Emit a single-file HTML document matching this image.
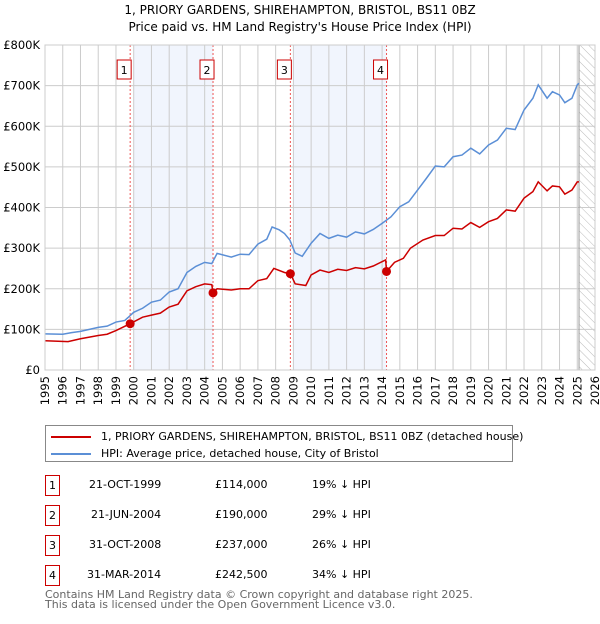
<!DOCTYPE html>
<html><head><meta charset="utf-8"><style>
body{margin:0;background:#fff;font-family:"DejaVu Sans","Liberation Sans",sans-serif;}
svg text{font-family:"DejaVu Sans","Liberation Sans",sans-serif;}
span,div{white-space:nowrap;}
</style></head><body>
<svg id="c" width="600" height="620" xmlns="http://www.w3.org/2000/svg">
<defs><pattern id="hatch" width="6" height="6" patternUnits="userSpaceOnUse" patternTransform="rotate(-45)"><line x1="0" y1="0" x2="0" y2="6" stroke="#bbb" stroke-width="1"/></pattern></defs>
<text x="300" y="14" text-anchor="middle" font-size="12">1, PRIORY GARDENS, SHIREHAMPTON, BRISTOL, BS11 0BZ</text>
<text x="300" y="31" text-anchor="middle" font-size="12">Price paid vs. HM Land Registry's House Price Index (HPI)</text>
<g id="plot"></g>
</svg>
<script>
const hpiYears=[1995,1996,1996.5,1997,1998,1998.5,1999,1999.5,2000,2000.5,2001,2001.5,2002,2002.5,2003,2003.5,2004,2004.4,2004.7,2005.5,2006,2006.5,2007,2007.5,2007.8,2008.2,2008.5,2008.8,2009.1,2009.5,2010,2010.5,2011,2011.5,2012,2012.5,2013,2013.5,2014,2014.5,2015,2015.5,2016,2016.5,2017,2017.5,2018,2018.5,2019,2019.5,2020,2020.5,2021,2021.5,2022,2022.5,2022.8,2023.3,2023.6,2024,2024.3,2024.7,2025,2025.1];
const hpiValues=[89,88,92,95,105,108,118,122,142,152,167,172,192,200,240,255,265,262,287,278,285,284,310,322,352,345,336,320,288,280,312,336,324,332,327,340,335,346,361,377,402,414,443,472,502,500,525,529,546,532,554,566,595,592,640,669,702,669,685,677,658,669,702,706];
const ppYears=[1995,1996.3,1997,1998,1998.5,1999,1999.8,2000.5,2001,2001.5,2002,2002.5,2003,2003.5,2004,2004.4,2004.47,2004.7,2005.5,2006,2006.5,2007,2007.5,2007.9,2008.5,2008.83,2009.1,2009.7,2010,2010.5,2011,2011.5,2012,2012.5,2013,2013.5,2014.2,2014.25,2014.7,2015.2,2015.6,2016.3,2017,2017.5,2018,2018.5,2019,2019.5,2020,2020.5,2021,2021.5,2022,2022.5,2022.8,2023.3,2023.6,2024,2024.3,2024.7,2025,2025.1];
const ppValues=[72,70,77,85,88,97,114,130,135,140,155,162,195,205,212,210,190,200,197,200,200,220,225,250,240,237,212,208,234,246,240,248,245,252,249,256,271,242.5,265,275,300,320,331,331,349,347,363,351,365,373,394,391,423,439,463,441,453,451,433,443,463,463];
const saleYears=[1999.8,2004.47,2008.83,2014.25];
const saleValues=[114,190,237,242.5];
const saleLabels=["1","2","3","4"];
const yTicks=[0,100,200,300,400,500,600,700,800];
const yTickLabels=["£0","£100K","£200K","£300K","£400K","£500K","£600K","£700K","£800K"];
const xTicks=[1995,1996,1997,1998,1999,2000,2001,2002,2003,2004,2005,2006,2007,2008,2009,2010,2011,2012,2013,2014,2015,2016,2017,2018,2019,2020,2021,2022,2023,2024,2025,2026];
const shadeRanges=[[2000,2004.47],[2009,2014.25]];
const X0=45,X1=595,Y0=370,Y1=45;
const sx=y=>X0+(y-1995)/(2026-1995)*(X1-X0);
const sy=v=>Y0-v/800*(Y0-Y1);
const NS="http://www.w3.org/2000/svg";
const g=document.getElementById('plot');
function mk(t,a){const e=document.createElementNS(NS,t);for(const k in a)e.setAttribute(k,a[k]);g.appendChild(e);return e;}
shadeRanges.forEach((r,i)=>{const e=mk('rect',{x:sx(r[0]),y:Y1,width:sx(r[1])-sx(r[0]),height:Y0-Y1,fill:'#eef3fd',opacity:0.8});

});
const h=mk('rect',{x:sx(2025.1),y:Y1,width:X1-sx(2025.1),height:Y0-Y1,fill:'url(#hatch)'});


xTicks.forEach(t=>{const l=mk('line',{x1:sx(t),x2:sx(t),y1:Y1,y2:Y0,stroke:'#ccc','stroke-width':1});


const tx=mk('text',{x:0,y:0,'font-size':11.5,'text-anchor':'end',transform:`translate(${sx(t)+4},${Y0+6}) rotate(-90)`});tx.textContent=t;

});
yTicks.forEach((t,i)=>{const l=mk('line',{x1:X0,x2:X1,y1:sy(t),y2:sy(t),stroke:'#ccc','stroke-width':1});


const tx=mk('text',{x:X0-5,y:sy(t)+4,'font-size':11.5,'text-anchor':'end'});tx.textContent=yTickLabels[i];

});
const vl=mk('line',{x1:sx(2025.1),x2:sx(2025.1),y1:Y1,y2:Y0,stroke:'#999','stroke-width':1});


saleYears.forEach((y,i)=>{const l=mk('line',{x1:sx(y),x2:sx(y),y1:Y1,y2:Y0,stroke:'#e55','stroke-width':1,'stroke-dasharray':'2,2'});


const b=mk('rect',{x:sx(y)-13,y:60,width:14,height:19,fill:'#fff',stroke:'#c00','stroke-width':1});


const t=mk('text',{x:sx(y)-6,y:74,'font-size':11,'text-anchor':'middle'});t.textContent=saleLabels[i];

});
const hp=mk('polyline',{points:hpiYears.map((y,i)=>sx(y)+','+sy(hpiValues[i])).join(' '),fill:'none',stroke:'#5b8fd6','stroke-width':1.5});


const pp=mk('polyline',{points:ppYears.map((y,i)=>sx(y)+','+sy(ppValues[i])).join(' '),fill:'none',stroke:'#cc0000','stroke-width':1.5});


saleYears.forEach((y,i)=>{const c=mk('circle',{cx:sx(y),cy:sy(saleValues[i]),r:4.5,fill:'#cc0000'});

});
const bd=mk('rect',{x:X0,y:Y1,width:X1-X0,height:Y0-Y1,fill:'none',stroke:'#ccc'});


</script>
<div style="position:absolute;left:45px;top:425px;width:466px;height:35px;border:1px solid #888;font-size:11px;">
<div style="position:absolute;left:5px;top:4px;"><span style="display:inline-block;width:40px;height:2px;background:#cc0000;vertical-align:middle;margin-right:10px"></span>1, PRIORY GARDENS, SHIREHAMPTON, BRISTOL, BS11 0BZ (detached house)</div>
<div style="position:absolute;left:5px;top:21px;"><span style="display:inline-block;width:40px;height:2px;background:#5b8fd6;vertical-align:middle;margin-right:10px"></span>HPI: Average price, detached house, City of Bristol</div>
</div>
<div style="position:absolute;left:0;top:0;font-size:11px;">
<div><span style="position:absolute;left:45px;top:475px;width:13px;height:19px;border:1px solid #c00;text-align:center;line-height:19px">1</span><span style="position:absolute;left:89px;top:478px">21-OCT-1999</span><span style="position:absolute;left:215px;top:478px">£114,000</span><span style="position:absolute;left:312px;top:478px">19% ↓ HPI</span></div>
<div><span style="position:absolute;left:45px;top:505px;width:13px;height:19px;border:1px solid #c00;text-align:center;line-height:19px">2</span><span style="position:absolute;left:91px;top:508px">21-JUN-2004</span><span style="position:absolute;left:215px;top:508px">£190,000</span><span style="position:absolute;left:312px;top:508px">29% ↓ HPI</span></div>
<div><span style="position:absolute;left:45px;top:535px;width:13px;height:19px;border:1px solid #c00;text-align:center;line-height:19px">3</span><span style="position:absolute;left:89px;top:538px">31-OCT-2008</span><span style="position:absolute;left:215px;top:538px">£237,000</span><span style="position:absolute;left:312px;top:538px">26% ↓ HPI</span></div>
<div><span style="position:absolute;left:45px;top:565px;width:13px;height:19px;border:1px solid #c00;text-align:center;line-height:19px">4</span><span style="position:absolute;left:87px;top:568px">31-MAR-2014</span><span style="position:absolute;left:215px;top:568px">£242,500</span><span style="position:absolute;left:312px;top:568px">34% ↓ HPI</span></div>
</div>
<div style="position:absolute;left:45px;top:590px;font-size:11px;color:#666;line-height:10px;">Contains HM Land Registry data © Crown copyright and database right 2025.<br>This data is licensed under the Open Government Licence v3.0.</div>
</body></html>
